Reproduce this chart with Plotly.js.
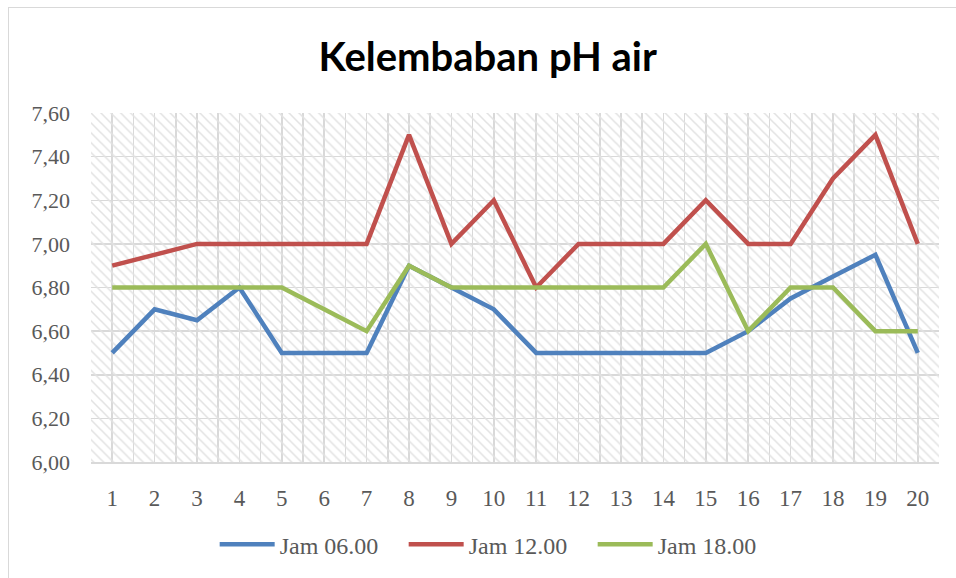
<!DOCTYPE html>
<html>
<head>
<meta charset="utf-8">
<script src="https://cdn.plot.ly/plotly-3.0.1.min.js"></script>
<style>
  html, body { margin: 0; padding: 0; background: #ffffff; }
  body { width: 956px; height: 578px; overflow: hidden; position: relative; }
  #frame { position: absolute; left: 8px; top: 7px; width: 960px; height: 600px;
           border-left: 1.5px solid #d9d9d9; border-top: 1.5px solid #d9d9d9; }
  #chart { position: absolute; left: 9px; top: 8px; width: 948px; height: 571px; }
</style>
</head>
<body>
<div id="frame"></div>
<div id="chart"></div>
<script>
// ---- data ----
const categories = [1,2,3,4,5,6,7,8,9,10,11,12,13,14,15,16,17,18,19,20];
const jam0600 = [6.50,6.70,6.65,6.80,6.50,6.50,6.50,6.90,6.80,6.70,6.50,6.50,6.50,6.50,6.50,6.60,6.75,6.85,6.95,6.50];
const jam1200 = [6.90,6.95,7.00,7.00,7.00,7.00,7.00,7.50,7.00,7.20,6.80,7.00,7.00,7.00,7.20,7.00,7.00,7.30,7.50,7.00];
const jam1800 = [6.80,6.80,6.80,6.80,6.80,6.70,6.60,6.90,6.80,6.80,6.80,6.80,6.80,6.80,7.00,6.60,6.80,6.80,6.60,6.60];
const seriesNames = ["Jam 06.00", "Jam 12.00", "Jam 18.00"];
const yTicks = [6.00,6.20,6.40,6.60,6.80,7.00,7.20,7.40,7.60];
const titleText = "Kelembaban pH air";

// ---- styling ----
const colors = ["#4F81BD", "#C0504D", "#9BBB59"];
const serif = "'Liberation Serif', 'DejaVu Serif', serif";
const xMin = Math.min(...categories) - 0.5;
const xMax = Math.max(...categories) + 0.5;
const yMin = yTicks[0], yMax = yTicks[yTicks.length - 1];

// hatched plot-area background
const bg = {
  x: [xMin, xMax, xMax, xMin, xMin],
  y: [yMin, yMin, yMax, yMax, yMin],
  type: "scatter", mode: "lines", fill: "toself",
  fillcolor: "rgba(0,0,0,0)",
  fillpattern: {shape: "\\", fgcolor: "#e2e2e2", bgcolor: "rgba(0,0,0,0)", size: 7, solidity: 0.22},
  line: {width: 0}, hoverinfo: "skip", showlegend: false
};

const data = [bg];
[jam0600, jam1200, jam1800].forEach((vals, i) => {
  data.push({
    x: categories, y: vals, type: "scatter", mode: "lines",
    name: seriesNames[i],
    line: {color: colors[i], width: 4.5}
  });
});

const layout = {
  width: 948, height: 571,
  margin: {l: 82, r: 18, t: 105, b: 117},
  paper_bgcolor: "rgba(0,0,0,0)",
  plot_bgcolor: "#ffffff",
  separators: ",.",
  font: {family: serif, size: 23, color: "#595959"},
  title: {
    text: "<b>" + titleText + "</b>",
    font: {family: "Lato, sans-serif", size: 40, color: "#000000"},
    xref: "container", x: 0.505, xanchor: "center",
    yref: "container", y: 0.914, yanchor: "middle"
  },
  xaxis: {
    type: "linear", range: [xMin, xMax],
    tickmode: "array", tickvals: categories, ticktext: categories.map(String),
    showgrid: true, gridcolor: "#d9d9d9", gridwidth: 1.5,
    minor: {dtick: 0.5, tick0: 0.5, showgrid: true, gridcolor: "#d9d9d9", gridwidth: 1.5},
    showline: true, linecolor: "#d9d9d9", linewidth: 2,
    zeroline: false, ticks: "", ticklabelstandoff: 14,
    tickfont: {family: serif, size: 23, color: "#595959"}, fixedrange: true
  },
  yaxis: {
    range: [yMin, yMax],
    tickmode: "array", tickvals: yTicks, tickformat: ".2f",
    showgrid: true, gridcolor: "#d9d9d9", gridwidth: 1.5,
    zeroline: false, showline: false, ticks: "", ticklabelstandoff: 20,
    tickfont: {family: serif, size: 22, color: "#595959"}, fixedrange: true
  },
  showlegend: true,
  legend: {
    orientation: "h", xref: "container", yref: "container",
    x: 0.516, xanchor: "center", y: 0.06, yanchor: "middle",
    font: {family: serif, size: 24, color: "#595959"},
    itemwidth: 55, entrywidth: 119, bgcolor: "rgba(0,0,0,0)"
  }
};

Plotly.newPlot("chart", data, layout, {displayModeBar: false, staticPlot: true});
</script>
</body>
</html>
